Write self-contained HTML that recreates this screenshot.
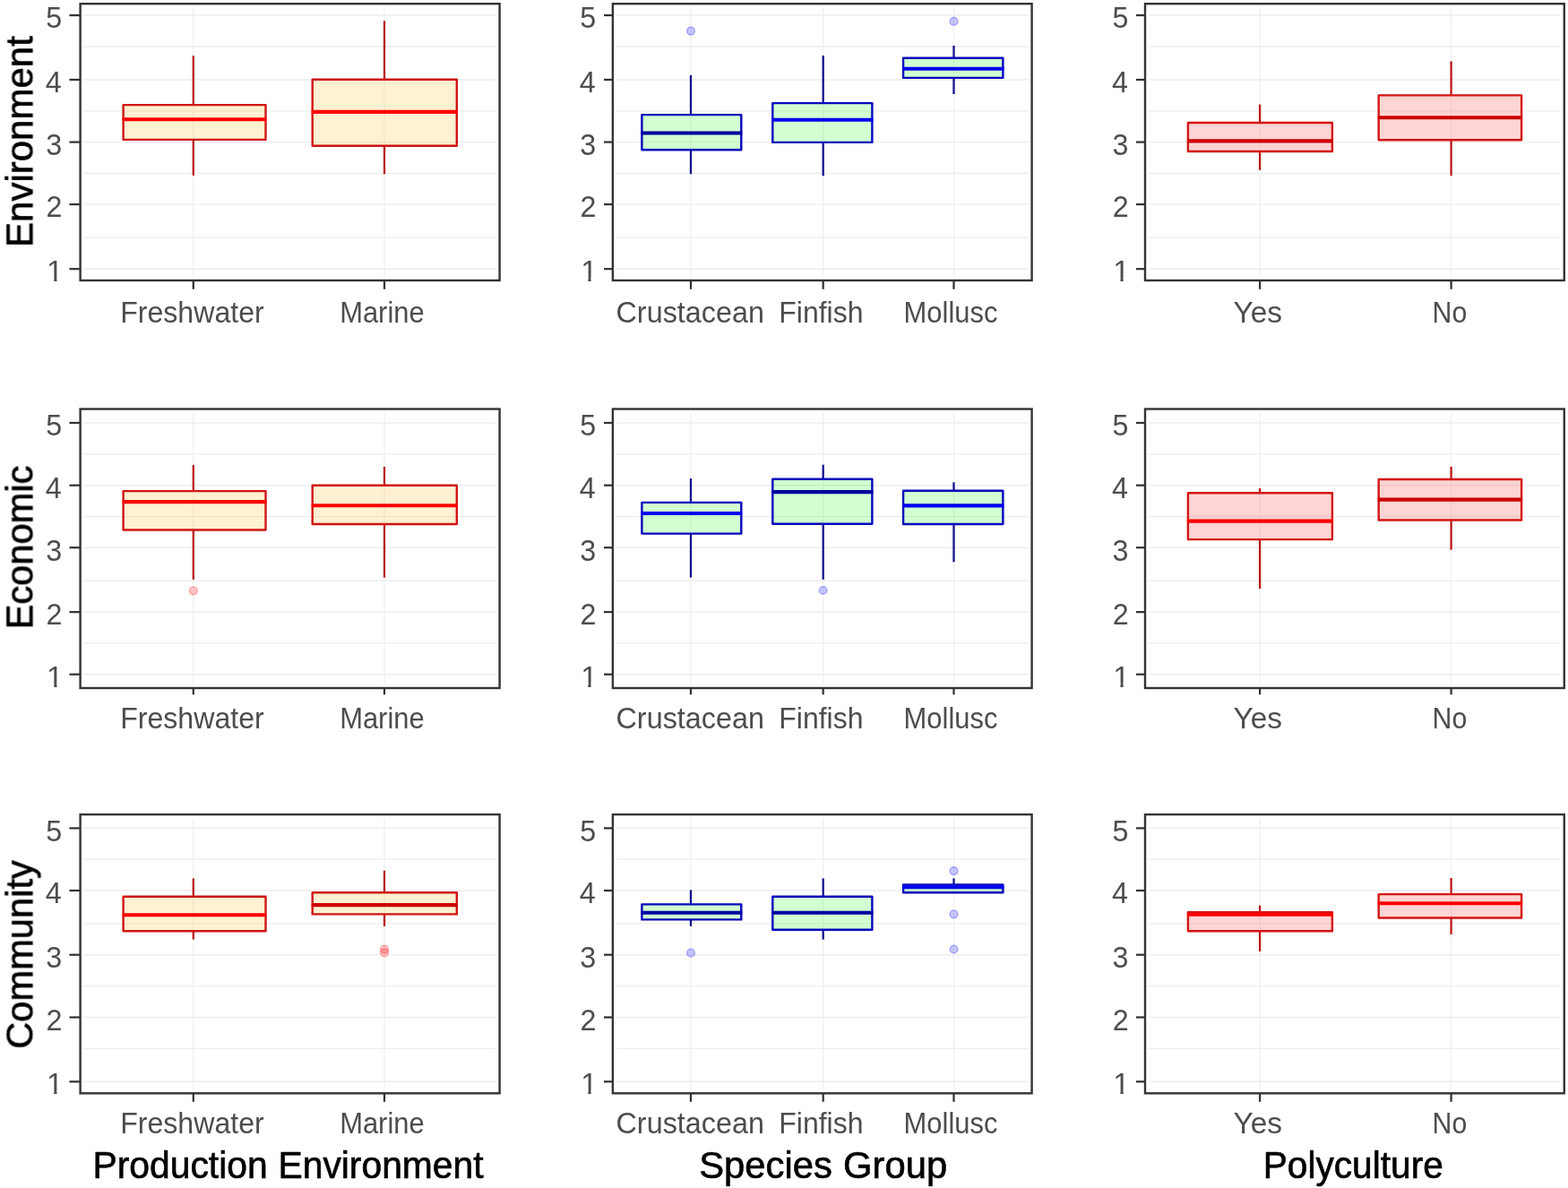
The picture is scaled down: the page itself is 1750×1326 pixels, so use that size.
<!DOCTYPE html>
<html lang="en"><head><meta charset="utf-8"><title>Boxplots</title>
<style>
html,body{margin:0;padding:0;background:#fff;}
body{width:1750px;height:1326px;overflow:hidden;}
svg{display:block;}
text{font-family:"Liberation Sans",sans-serif;}
.tk{font-size:33.3px;fill:#4D4D4D;}
.tt{font-size:42px;fill:#000;stroke:#000;stroke-width:0.65px;}
</style></head><body>
<svg width="1750" height="1326" viewBox="0 0 1750 1326" role="img" aria-label="Boxplots of Environment, Economic and Community scores by Production Environment, Species Group and Polyculture">
<defs>
<filter id="soft" x="-5%" y="-5%" width="110%" height="110%" color-interpolation-filters="sRGB"><feGaussianBlur stdDeviation="0.5"/></filter>
<filter id="softer" x="-5%" y="-5%" width="110%" height="110%" color-interpolation-filters="sRGB"><feGaussianBlur stdDeviation="0.65"/></filter>
<clipPath id="one" clipPathUnits="userSpaceOnUse"><path d="M0 -30H20V-4H11.45V2H8.2V-4H0Z"/></clipPath>
</defs>
<rect width="1750" height="1326" fill="#fff"/>
<g filter="url(#soft)">
<g>
<g stroke="#EDEDED"><line x1="93.6" x2="553.6" y1="17.05" y2="17.05" stroke-width="1.45"/><line x1="93.6" x2="553.6" y1="52" y2="52" stroke-width="1.3"/><line x1="93.6" x2="553.6" y1="89" y2="89" stroke-width="1.45"/><line x1="93.6" x2="553.6" y1="123.8" y2="123.8" stroke-width="1.3"/><line x1="93.6" x2="553.6" y1="158.6" y2="158.6" stroke-width="1.45"/><line x1="93.6" x2="553.6" y1="193.3" y2="193.3" stroke-width="1.3"/><line x1="93.6" x2="553.6" y1="228.1" y2="228.1" stroke-width="1.45"/><line x1="93.6" x2="553.6" y1="265.1" y2="265.1" stroke-width="1.3"/><line x1="93.6" x2="553.6" y1="300.2" y2="300.2" stroke-width="1.45"/><line x1="215.8" x2="215.8" y1="8.2" y2="309" stroke="#F0F0F0" stroke-width="1.3"/><line x1="429" x2="429" y1="8.2" y2="309" stroke="#F0F0F0" stroke-width="1.3"/></g>
<line x1="215.8" x2="215.8" y1="62.2" y2="117.1" stroke="#B81C1C" stroke-width="2.3"/>
<line x1="215.8" x2="215.8" y1="155.9" y2="195.9" stroke="#B81C1C" stroke-width="2.3"/>
<rect x="137.6" y="117.1" width="158.9" height="38.8" fill="#FFB400" fill-opacity="0.18" stroke="#D01414" stroke-width="2.4" stroke-linejoin="round"/>
<line x1="136.6" x2="297.5" y1="133.3" y2="133.3" stroke="#FF0000" stroke-width="4.1"/>
<line x1="429" x2="429" y1="23.3" y2="88.7" stroke="#B81C1C" stroke-width="2.3"/>
<line x1="429" x2="429" y1="162.7" y2="194.3" stroke="#B81C1C" stroke-width="2.3"/>
<rect x="348.7" y="88.7" width="161.1" height="74" fill="#FFB400" fill-opacity="0.18" stroke="#D01414" stroke-width="2.4" stroke-linejoin="round"/>
<line x1="347.7" x2="510.8" y1="124.9" y2="124.9" stroke="#FF0000" stroke-width="4.1"/>
<rect x="89.6" y="4.2" width="468" height="308.8" fill="none" stroke="#333333" stroke-width="2.4"/>
<g stroke="#333333" stroke-width="2.25"><line x1="77.5" x2="89.6" y1="17.05" y2="17.05"/><line x1="77.5" x2="89.6" y1="89" y2="89"/><line x1="77.5" x2="89.6" y1="158.6" y2="158.6"/><line x1="77.5" x2="89.6" y1="228.1" y2="228.1"/><line x1="77.5" x2="89.6" y1="300.2" y2="300.2"/><line x1="215.8" x2="215.8" y1="313" y2="322.8"/><line x1="429" x2="429" y1="313" y2="322.8"/></g>
</g>
<g>
<g stroke="#EDEDED"><line x1="687.9" x2="1147.6" y1="17.05" y2="17.05" stroke-width="1.45"/><line x1="687.9" x2="1147.6" y1="52" y2="52" stroke-width="1.3"/><line x1="687.9" x2="1147.6" y1="89" y2="89" stroke-width="1.45"/><line x1="687.9" x2="1147.6" y1="123.8" y2="123.8" stroke-width="1.3"/><line x1="687.9" x2="1147.6" y1="158.6" y2="158.6" stroke-width="1.45"/><line x1="687.9" x2="1147.6" y1="193.3" y2="193.3" stroke-width="1.3"/><line x1="687.9" x2="1147.6" y1="228.1" y2="228.1" stroke-width="1.45"/><line x1="687.9" x2="1147.6" y1="265.1" y2="265.1" stroke-width="1.3"/><line x1="687.9" x2="1147.6" y1="300.2" y2="300.2" stroke-width="1.45"/><line x1="771" x2="771" y1="8.2" y2="309" stroke="#F0F0F0" stroke-width="1.3"/><line x1="918.7" x2="918.7" y1="8.2" y2="309" stroke="#F0F0F0" stroke-width="1.3"/><line x1="1064.5" x2="1064.5" y1="8.2" y2="309" stroke="#F0F0F0" stroke-width="1.3"/></g>
<circle cx="771" cy="34.6" r="4.4" fill="#0000FF" fill-opacity="0.22" stroke="#0000FF" stroke-opacity="0.3" stroke-width="1.4"/>
<line x1="771" x2="771" y1="83.9" y2="128.1" stroke="#12128E" stroke-width="2.3"/>
<line x1="771" x2="771" y1="167.3" y2="194.3" stroke="#12128E" stroke-width="2.3"/>
<rect x="716.4" y="128.1" width="110.9" height="39.2" fill="#00FF00" fill-opacity="0.18" stroke="#0808BE" stroke-width="2.4" stroke-linejoin="round"/>
<line x1="715.4" x2="828.3" y1="148.5" y2="148.5" stroke="#0000A0" stroke-width="4.1"/>
<line x1="918.7" x2="918.7" y1="62" y2="115.1" stroke="#12128E" stroke-width="2.3"/>
<line x1="918.7" x2="918.7" y1="158.9" y2="196.3" stroke="#12128E" stroke-width="2.3"/>
<rect x="862.3" y="115.1" width="111.1" height="43.8" fill="#00FF00" fill-opacity="0.18" stroke="#0808BE" stroke-width="2.4" stroke-linejoin="round"/>
<line x1="861.3" x2="974.4" y1="133.7" y2="133.7" stroke="#0000F0" stroke-width="4.1"/>
<circle cx="1064.5" cy="23.9" r="4.4" fill="#0000FF" fill-opacity="0.22" stroke="#0000FF" stroke-opacity="0.3" stroke-width="1.4"/>
<line x1="1064.5" x2="1064.5" y1="51" y2="64.8" stroke="#12128E" stroke-width="2.3"/>
<line x1="1064.5" x2="1064.5" y1="86.9" y2="105" stroke="#12128E" stroke-width="2.3"/>
<rect x="1008.1" y="64.8" width="111.3" height="22.1" fill="#00FF00" fill-opacity="0.18" stroke="#0808BE" stroke-width="2.4" stroke-linejoin="round"/>
<line x1="1007.1" x2="1120.4" y1="76.8" y2="76.8" stroke="#0000F0" stroke-width="4.1"/>
<rect x="683.9" y="4.2" width="467.7" height="308.8" fill="none" stroke="#333333" stroke-width="2.4"/>
<g stroke="#333333" stroke-width="2.25"><line x1="674" x2="683.9" y1="17.05" y2="17.05"/><line x1="674" x2="683.9" y1="89" y2="89"/><line x1="674" x2="683.9" y1="158.6" y2="158.6"/><line x1="674" x2="683.9" y1="228.1" y2="228.1"/><line x1="674" x2="683.9" y1="300.2" y2="300.2"/><line x1="771" x2="771" y1="313" y2="322.8"/><line x1="918.7" x2="918.7" y1="313" y2="322.8"/><line x1="1064.5" x2="1064.5" y1="313" y2="322.8"/></g>
</g>
<g>
<g stroke="#EDEDED"><line x1="1282" x2="1741.8" y1="17.05" y2="17.05" stroke-width="1.45"/><line x1="1282" x2="1741.8" y1="52" y2="52" stroke-width="1.3"/><line x1="1282" x2="1741.8" y1="89" y2="89" stroke-width="1.45"/><line x1="1282" x2="1741.8" y1="123.8" y2="123.8" stroke-width="1.3"/><line x1="1282" x2="1741.8" y1="158.6" y2="158.6" stroke-width="1.45"/><line x1="1282" x2="1741.8" y1="193.3" y2="193.3" stroke-width="1.3"/><line x1="1282" x2="1741.8" y1="228.1" y2="228.1" stroke-width="1.45"/><line x1="1282" x2="1741.8" y1="265.1" y2="265.1" stroke-width="1.3"/><line x1="1282" x2="1741.8" y1="300.2" y2="300.2" stroke-width="1.45"/><line x1="1406.1" x2="1406.1" y1="8.2" y2="309" stroke="#F0F0F0" stroke-width="1.3"/><line x1="1619.6" x2="1619.6" y1="8.2" y2="309" stroke="#F0F0F0" stroke-width="1.3"/></g>
<line x1="1406.1" x2="1406.1" y1="116.6" y2="137" stroke="#BC1818" stroke-width="2.3"/>
<line x1="1406.1" x2="1406.1" y1="169" y2="189.8" stroke="#BC1818" stroke-width="2.3"/>
<rect x="1325.9" y="137" width="161" height="32" fill="#FF0000" fill-opacity="0.17" stroke="#D41414" stroke-width="2.4" stroke-linejoin="round"/>
<line x1="1324.9" x2="1487.9" y1="157.4" y2="157.4" stroke="#CC0000" stroke-width="4.1"/>
<line x1="1619.6" x2="1619.6" y1="68.4" y2="106.4" stroke="#BC1818" stroke-width="2.3"/>
<line x1="1619.6" x2="1619.6" y1="156.2" y2="196.1" stroke="#BC1818" stroke-width="2.3"/>
<rect x="1538.7" y="106.4" width="159.4" height="49.8" fill="#FF0000" fill-opacity="0.17" stroke="#D41414" stroke-width="2.4" stroke-linejoin="round"/>
<line x1="1537.7" x2="1699.1" y1="131.3" y2="131.3" stroke="#CC0000" stroke-width="4.1"/>
<rect x="1278" y="4.2" width="467.8" height="308.8" fill="none" stroke="#333333" stroke-width="2.4"/>
<g stroke="#333333" stroke-width="2.25"><line x1="1268" x2="1278" y1="17.05" y2="17.05"/><line x1="1268" x2="1278" y1="89" y2="89"/><line x1="1268" x2="1278" y1="158.6" y2="158.6"/><line x1="1268" x2="1278" y1="228.1" y2="228.1"/><line x1="1268" x2="1278" y1="300.2" y2="300.2"/><line x1="1406.1" x2="1406.1" y1="313" y2="322.8"/><line x1="1619.6" x2="1619.6" y1="313" y2="322.8"/></g>
</g>
<g>
<g stroke="#EDEDED"><line x1="93.6" x2="553.6" y1="472" y2="472" stroke-width="1.45"/><line x1="93.6" x2="553.6" y1="506.9" y2="506.9" stroke-width="1.3"/><line x1="93.6" x2="553.6" y1="541.7" y2="541.7" stroke-width="1.45"/><line x1="93.6" x2="553.6" y1="576.6" y2="576.6" stroke-width="1.3"/><line x1="93.6" x2="553.6" y1="611.2" y2="611.2" stroke-width="1.45"/><line x1="93.6" x2="553.6" y1="648.2" y2="648.2" stroke-width="1.3"/><line x1="93.6" x2="553.6" y1="683.1" y2="683.1" stroke-width="1.45"/><line x1="93.6" x2="553.6" y1="717.9" y2="717.9" stroke-width="1.3"/><line x1="93.6" x2="553.6" y1="752.7" y2="752.7" stroke-width="1.45"/><line x1="215.8" x2="215.8" y1="460.5" y2="764" stroke="#F0F0F0" stroke-width="1.3"/><line x1="429" x2="429" y1="460.5" y2="764" stroke="#F0F0F0" stroke-width="1.3"/></g>
<circle cx="215.8" cy="659.3" r="4.4" fill="#FF0000" fill-opacity="0.22" stroke="#FF0000" stroke-opacity="0.3" stroke-width="1.4"/>
<line x1="215.8" x2="215.8" y1="519" y2="548.1" stroke="#B81C1C" stroke-width="2.3"/>
<line x1="215.8" x2="215.8" y1="591.5" y2="646.9" stroke="#B81C1C" stroke-width="2.3"/>
<rect x="137.6" y="548.1" width="158.9" height="43.4" fill="#FFB400" fill-opacity="0.18" stroke="#D01414" stroke-width="2.4" stroke-linejoin="round"/>
<line x1="136.6" x2="297.5" y1="560.1" y2="560.1" stroke="#FF0000" stroke-width="4.1"/>
<line x1="429" x2="429" y1="520.9" y2="541.7" stroke="#B81C1C" stroke-width="2.3"/>
<line x1="429" x2="429" y1="585" y2="644.6" stroke="#B81C1C" stroke-width="2.3"/>
<rect x="348.7" y="541.7" width="161.1" height="43.3" fill="#FFB400" fill-opacity="0.18" stroke="#D01414" stroke-width="2.4" stroke-linejoin="round"/>
<line x1="347.7" x2="510.8" y1="564.2" y2="564.2" stroke="#FF0000" stroke-width="4.1"/>
<rect x="89.6" y="456.5" width="468" height="311.5" fill="none" stroke="#333333" stroke-width="2.4"/>
<g stroke="#333333" stroke-width="2.25"><line x1="77.5" x2="89.6" y1="472" y2="472"/><line x1="77.5" x2="89.6" y1="541.7" y2="541.7"/><line x1="77.5" x2="89.6" y1="611.2" y2="611.2"/><line x1="77.5" x2="89.6" y1="683.1" y2="683.1"/><line x1="77.5" x2="89.6" y1="752.7" y2="752.7"/><line x1="215.8" x2="215.8" y1="768" y2="775.3"/><line x1="429" x2="429" y1="768" y2="775.3"/></g>
</g>
<g>
<g stroke="#EDEDED"><line x1="687.9" x2="1147.6" y1="472" y2="472" stroke-width="1.45"/><line x1="687.9" x2="1147.6" y1="506.9" y2="506.9" stroke-width="1.3"/><line x1="687.9" x2="1147.6" y1="541.7" y2="541.7" stroke-width="1.45"/><line x1="687.9" x2="1147.6" y1="576.6" y2="576.6" stroke-width="1.3"/><line x1="687.9" x2="1147.6" y1="611.2" y2="611.2" stroke-width="1.45"/><line x1="687.9" x2="1147.6" y1="648.2" y2="648.2" stroke-width="1.3"/><line x1="687.9" x2="1147.6" y1="683.1" y2="683.1" stroke-width="1.45"/><line x1="687.9" x2="1147.6" y1="717.9" y2="717.9" stroke-width="1.3"/><line x1="687.9" x2="1147.6" y1="752.7" y2="752.7" stroke-width="1.45"/><line x1="771" x2="771" y1="460.5" y2="764" stroke="#F0F0F0" stroke-width="1.3"/><line x1="918.7" x2="918.7" y1="460.5" y2="764" stroke="#F0F0F0" stroke-width="1.3"/><line x1="1064.5" x2="1064.5" y1="460.5" y2="764" stroke="#F0F0F0" stroke-width="1.3"/></g>
<line x1="771" x2="771" y1="534" y2="560.9" stroke="#12128E" stroke-width="2.3"/>
<line x1="771" x2="771" y1="595.6" y2="644.6" stroke="#12128E" stroke-width="2.3"/>
<rect x="716.4" y="560.9" width="110.9" height="34.7" fill="#00FF00" fill-opacity="0.18" stroke="#0808BE" stroke-width="2.4" stroke-linejoin="round"/>
<line x1="715.4" x2="828.3" y1="573" y2="573" stroke="#0000F0" stroke-width="4.1"/>
<circle cx="918.7" cy="659" r="4.4" fill="#0000FF" fill-opacity="0.22" stroke="#0000FF" stroke-opacity="0.3" stroke-width="1.4"/>
<line x1="918.7" x2="918.7" y1="518.7" y2="534.8" stroke="#12128E" stroke-width="2.3"/>
<line x1="918.7" x2="918.7" y1="584.7" y2="646.9" stroke="#12128E" stroke-width="2.3"/>
<rect x="862.3" y="534.8" width="111.1" height="49.9" fill="#00FF00" fill-opacity="0.18" stroke="#0808BE" stroke-width="2.4" stroke-linejoin="round"/>
<line x1="861.3" x2="974.4" y1="549.1" y2="549.1" stroke="#0000A0" stroke-width="4.1"/>
<line x1="1064.5" x2="1064.5" y1="538.3" y2="547.8" stroke="#12128E" stroke-width="2.3"/>
<line x1="1064.5" x2="1064.5" y1="585" y2="627.3" stroke="#12128E" stroke-width="2.3"/>
<rect x="1008.1" y="547.8" width="111.3" height="37.2" fill="#00FF00" fill-opacity="0.18" stroke="#0808BE" stroke-width="2.4" stroke-linejoin="round"/>
<line x1="1007.1" x2="1120.4" y1="564.4" y2="564.4" stroke="#0000F0" stroke-width="4.1"/>
<rect x="683.9" y="456.5" width="467.7" height="311.5" fill="none" stroke="#333333" stroke-width="2.4"/>
<g stroke="#333333" stroke-width="2.25"><line x1="674" x2="683.9" y1="472" y2="472"/><line x1="674" x2="683.9" y1="541.7" y2="541.7"/><line x1="674" x2="683.9" y1="611.2" y2="611.2"/><line x1="674" x2="683.9" y1="683.1" y2="683.1"/><line x1="674" x2="683.9" y1="752.7" y2="752.7"/><line x1="771" x2="771" y1="768" y2="775.3"/><line x1="918.7" x2="918.7" y1="768" y2="775.3"/><line x1="1064.5" x2="1064.5" y1="768" y2="775.3"/></g>
</g>
<g>
<g stroke="#EDEDED"><line x1="1282" x2="1741.8" y1="472" y2="472" stroke-width="1.45"/><line x1="1282" x2="1741.8" y1="506.9" y2="506.9" stroke-width="1.3"/><line x1="1282" x2="1741.8" y1="541.7" y2="541.7" stroke-width="1.45"/><line x1="1282" x2="1741.8" y1="576.6" y2="576.6" stroke-width="1.3"/><line x1="1282" x2="1741.8" y1="611.2" y2="611.2" stroke-width="1.45"/><line x1="1282" x2="1741.8" y1="648.2" y2="648.2" stroke-width="1.3"/><line x1="1282" x2="1741.8" y1="683.1" y2="683.1" stroke-width="1.45"/><line x1="1282" x2="1741.8" y1="717.9" y2="717.9" stroke-width="1.3"/><line x1="1282" x2="1741.8" y1="752.7" y2="752.7" stroke-width="1.45"/><line x1="1406.1" x2="1406.1" y1="460.5" y2="764" stroke="#F0F0F0" stroke-width="1.3"/><line x1="1619.6" x2="1619.6" y1="460.5" y2="764" stroke="#F0F0F0" stroke-width="1.3"/></g>
<line x1="1406.1" x2="1406.1" y1="545.1" y2="550.3" stroke="#BC1818" stroke-width="2.3"/>
<line x1="1406.1" x2="1406.1" y1="602.1" y2="657.1" stroke="#BC1818" stroke-width="2.3"/>
<rect x="1325.9" y="550.3" width="161" height="51.8" fill="#FF0000" fill-opacity="0.17" stroke="#D41414" stroke-width="2.4" stroke-linejoin="round"/>
<line x1="1324.9" x2="1487.9" y1="581.6" y2="581.6" stroke="#FF0000" stroke-width="4.1"/>
<line x1="1619.6" x2="1619.6" y1="520.9" y2="535" stroke="#BC1818" stroke-width="2.3"/>
<line x1="1619.6" x2="1619.6" y1="580.5" y2="613.7" stroke="#BC1818" stroke-width="2.3"/>
<rect x="1538.7" y="535" width="159.4" height="45.5" fill="#FF0000" fill-opacity="0.17" stroke="#D41414" stroke-width="2.4" stroke-linejoin="round"/>
<line x1="1537.7" x2="1699.1" y1="557.6" y2="557.6" stroke="#CC0000" stroke-width="4.1"/>
<rect x="1278" y="456.5" width="467.8" height="311.5" fill="none" stroke="#333333" stroke-width="2.4"/>
<g stroke="#333333" stroke-width="2.25"><line x1="1268" x2="1278" y1="472" y2="472"/><line x1="1268" x2="1278" y1="541.7" y2="541.7"/><line x1="1268" x2="1278" y1="611.2" y2="611.2"/><line x1="1268" x2="1278" y1="683.1" y2="683.1"/><line x1="1268" x2="1278" y1="752.7" y2="752.7"/><line x1="1406.1" x2="1406.1" y1="768" y2="775.3"/><line x1="1619.6" x2="1619.6" y1="768" y2="775.3"/></g>
</g>
<g>
<g stroke="#EDEDED"><line x1="93.6" x2="553.6" y1="924.4" y2="924.4" stroke-width="1.45"/><line x1="93.6" x2="553.6" y1="959.1" y2="959.1" stroke-width="1.3"/><line x1="93.6" x2="553.6" y1="994" y2="994" stroke-width="1.45"/><line x1="93.6" x2="553.6" y1="1030.9" y2="1030.9" stroke-width="1.3"/><line x1="93.6" x2="553.6" y1="1065.7" y2="1065.7" stroke-width="1.45"/><line x1="93.6" x2="553.6" y1="1100.6" y2="1100.6" stroke-width="1.3"/><line x1="93.6" x2="553.6" y1="1135.5" y2="1135.5" stroke-width="1.45"/><line x1="93.6" x2="553.6" y1="1170.3" y2="1170.3" stroke-width="1.3"/><line x1="93.6" x2="553.6" y1="1207.3" y2="1207.3" stroke-width="1.45"/><line x1="215.8" x2="215.8" y1="913.1" y2="1216.3" stroke="#F0F0F0" stroke-width="1.3"/><line x1="429" x2="429" y1="913.1" y2="1216.3" stroke="#F0F0F0" stroke-width="1.3"/></g>
<line x1="215.8" x2="215.8" y1="980.4" y2="1000.8" stroke="#B81C1C" stroke-width="2.3"/>
<line x1="215.8" x2="215.8" y1="1039.3" y2="1048.6" stroke="#B81C1C" stroke-width="2.3"/>
<rect x="137.6" y="1000.8" width="158.9" height="38.5" fill="#FFB400" fill-opacity="0.18" stroke="#D01414" stroke-width="2.4" stroke-linejoin="round"/>
<line x1="136.6" x2="297.5" y1="1021.2" y2="1021.2" stroke="#FF0000" stroke-width="4.1"/>
<circle cx="429" cy="1059.6" r="4.4" fill="#FF0000" fill-opacity="0.22" stroke="#FF0000" stroke-opacity="0.3" stroke-width="1.4"/>
<circle cx="429" cy="1063.4" r="4.4" fill="#FF0000" fill-opacity="0.22" stroke="#FF0000" stroke-opacity="0.3" stroke-width="1.4"/>
<line x1="429" x2="429" y1="971.7" y2="996.3" stroke="#B81C1C" stroke-width="2.3"/>
<line x1="429" x2="429" y1="1020.4" y2="1033.8" stroke="#B81C1C" stroke-width="2.3"/>
<rect x="348.7" y="996.3" width="161.1" height="24.1" fill="#FFB400" fill-opacity="0.18" stroke="#D01414" stroke-width="2.4" stroke-linejoin="round"/>
<line x1="347.7" x2="510.8" y1="1010.1" y2="1010.1" stroke="#CC0000" stroke-width="4.1"/>
<rect x="89.6" y="909.1" width="468" height="311.2" fill="none" stroke="#333333" stroke-width="2.4"/>
<g stroke="#333333" stroke-width="2.25"><line x1="77.5" x2="89.6" y1="924.4" y2="924.4"/><line x1="77.5" x2="89.6" y1="994" y2="994"/><line x1="77.5" x2="89.6" y1="1065.7" y2="1065.7"/><line x1="77.5" x2="89.6" y1="1135.5" y2="1135.5"/><line x1="77.5" x2="89.6" y1="1207.3" y2="1207.3"/><line x1="215.8" x2="215.8" y1="1220.3" y2="1229.8"/><line x1="429" x2="429" y1="1220.3" y2="1229.8"/></g>
</g>
<g>
<g stroke="#EDEDED"><line x1="687.9" x2="1147.6" y1="924.4" y2="924.4" stroke-width="1.45"/><line x1="687.9" x2="1147.6" y1="959.1" y2="959.1" stroke-width="1.3"/><line x1="687.9" x2="1147.6" y1="994" y2="994" stroke-width="1.45"/><line x1="687.9" x2="1147.6" y1="1030.9" y2="1030.9" stroke-width="1.3"/><line x1="687.9" x2="1147.6" y1="1065.7" y2="1065.7" stroke-width="1.45"/><line x1="687.9" x2="1147.6" y1="1100.6" y2="1100.6" stroke-width="1.3"/><line x1="687.9" x2="1147.6" y1="1135.5" y2="1135.5" stroke-width="1.45"/><line x1="687.9" x2="1147.6" y1="1170.3" y2="1170.3" stroke-width="1.3"/><line x1="687.9" x2="1147.6" y1="1207.3" y2="1207.3" stroke-width="1.45"/><line x1="771" x2="771" y1="913.1" y2="1216.3" stroke="#F0F0F0" stroke-width="1.3"/><line x1="918.7" x2="918.7" y1="913.1" y2="1216.3" stroke="#F0F0F0" stroke-width="1.3"/><line x1="1064.5" x2="1064.5" y1="913.1" y2="1216.3" stroke="#F0F0F0" stroke-width="1.3"/></g>
<circle cx="771" cy="1063.7" r="4.4" fill="#0000FF" fill-opacity="0.22" stroke="#0000FF" stroke-opacity="0.3" stroke-width="1.4"/>
<line x1="771" x2="771" y1="993.3" y2="1009.4" stroke="#12128E" stroke-width="2.3"/>
<line x1="771" x2="771" y1="1026.4" y2="1033.8" stroke="#12128E" stroke-width="2.3"/>
<rect x="716.4" y="1009.4" width="110.9" height="17" fill="#00FF00" fill-opacity="0.18" stroke="#0808BE" stroke-width="2.4" stroke-linejoin="round"/>
<line x1="715.4" x2="828.3" y1="1018.7" y2="1018.7" stroke="#0000A0" stroke-width="4.1"/>
<line x1="918.7" x2="918.7" y1="980.4" y2="1000.8" stroke="#12128E" stroke-width="2.3"/>
<line x1="918.7" x2="918.7" y1="1037.8" y2="1048.6" stroke="#12128E" stroke-width="2.3"/>
<rect x="862.3" y="1000.8" width="111.1" height="37" fill="#00FF00" fill-opacity="0.18" stroke="#0808BE" stroke-width="2.4" stroke-linejoin="round"/>
<line x1="861.3" x2="974.4" y1="1018.7" y2="1018.7" stroke="#0000A0" stroke-width="4.1"/>
<circle cx="1064.5" cy="972.1" r="4.4" fill="#0000FF" fill-opacity="0.22" stroke="#0000FF" stroke-opacity="0.3" stroke-width="1.4"/>
<circle cx="1064.5" cy="1020.3" r="4.4" fill="#0000FF" fill-opacity="0.22" stroke="#0000FF" stroke-opacity="0.3" stroke-width="1.4"/>
<circle cx="1064.5" cy="1059.5" r="4.4" fill="#0000FF" fill-opacity="0.22" stroke="#0000FF" stroke-opacity="0.3" stroke-width="1.4"/>
<line x1="1064.5" x2="1064.5" y1="980.4" y2="987.5" stroke="#12128E" stroke-width="2.3"/>
<rect x="1008.1" y="987.5" width="111.3" height="8.8" fill="#00FF00" fill-opacity="0.18" stroke="#0808BE" stroke-width="2.4" stroke-linejoin="round"/>
<line x1="1007.1" x2="1120.4" y1="990.2" y2="990.2" stroke="#0000F0" stroke-width="4.1"/>
<rect x="683.9" y="909.1" width="467.7" height="311.2" fill="none" stroke="#333333" stroke-width="2.4"/>
<g stroke="#333333" stroke-width="2.25"><line x1="674" x2="683.9" y1="924.4" y2="924.4"/><line x1="674" x2="683.9" y1="994" y2="994"/><line x1="674" x2="683.9" y1="1065.7" y2="1065.7"/><line x1="674" x2="683.9" y1="1135.5" y2="1135.5"/><line x1="674" x2="683.9" y1="1207.3" y2="1207.3"/><line x1="771" x2="771" y1="1220.3" y2="1229.8"/><line x1="918.7" x2="918.7" y1="1220.3" y2="1229.8"/><line x1="1064.5" x2="1064.5" y1="1220.3" y2="1229.8"/></g>
</g>
<g>
<g stroke="#EDEDED"><line x1="1282" x2="1741.8" y1="924.4" y2="924.4" stroke-width="1.45"/><line x1="1282" x2="1741.8" y1="959.1" y2="959.1" stroke-width="1.3"/><line x1="1282" x2="1741.8" y1="994" y2="994" stroke-width="1.45"/><line x1="1282" x2="1741.8" y1="1030.9" y2="1030.9" stroke-width="1.3"/><line x1="1282" x2="1741.8" y1="1065.7" y2="1065.7" stroke-width="1.45"/><line x1="1282" x2="1741.8" y1="1100.6" y2="1100.6" stroke-width="1.3"/><line x1="1282" x2="1741.8" y1="1135.5" y2="1135.5" stroke-width="1.45"/><line x1="1282" x2="1741.8" y1="1170.3" y2="1170.3" stroke-width="1.3"/><line x1="1282" x2="1741.8" y1="1207.3" y2="1207.3" stroke-width="1.45"/><line x1="1406.1" x2="1406.1" y1="913.1" y2="1216.3" stroke="#F0F0F0" stroke-width="1.3"/><line x1="1619.6" x2="1619.6" y1="913.1" y2="1216.3" stroke="#F0F0F0" stroke-width="1.3"/></g>
<line x1="1406.1" x2="1406.1" y1="1010.6" y2="1018.1" stroke="#BC1818" stroke-width="2.3"/>
<line x1="1406.1" x2="1406.1" y1="1039.3" y2="1061.9" stroke="#BC1818" stroke-width="2.3"/>
<rect x="1325.9" y="1018.1" width="161" height="21.2" fill="#FF0000" fill-opacity="0.17" stroke="#D41414" stroke-width="2.4" stroke-linejoin="round"/>
<line x1="1324.9" x2="1487.9" y1="1020.7" y2="1020.7" stroke="#FF0000" stroke-width="4.1"/>
<line x1="1619.6" x2="1619.6" y1="980" y2="998.1" stroke="#BC1818" stroke-width="2.3"/>
<line x1="1619.6" x2="1619.6" y1="1024.5" y2="1042.9" stroke="#BC1818" stroke-width="2.3"/>
<rect x="1538.7" y="998.1" width="159.4" height="26.4" fill="#FF0000" fill-opacity="0.17" stroke="#D41414" stroke-width="2.4" stroke-linejoin="round"/>
<line x1="1537.7" x2="1699.1" y1="1008.2" y2="1008.2" stroke="#FF0000" stroke-width="4.1"/>
<rect x="1278" y="909.1" width="467.8" height="311.2" fill="none" stroke="#333333" stroke-width="2.4"/>
<g stroke="#333333" stroke-width="2.25"><line x1="1268" x2="1278" y1="924.4" y2="924.4"/><line x1="1268" x2="1278" y1="994" y2="994"/><line x1="1268" x2="1278" y1="1065.7" y2="1065.7"/><line x1="1268" x2="1278" y1="1135.5" y2="1135.5"/><line x1="1268" x2="1278" y1="1207.3" y2="1207.3"/><line x1="1406.1" x2="1406.1" y1="1220.3" y2="1229.8"/><line x1="1619.6" x2="1619.6" y1="1220.3" y2="1229.8"/></g>
</g>
</g>
<g filter="url(#softer)">
<text class="tk" transform="translate(51.21 31.35) scale(0.9700 1)">5</text>
<text class="tk" transform="translate(50.72 103.3) scale(0.9700 1)">4</text>
<text class="tk" transform="translate(51.21 172.9) scale(0.9700 1)">3</text>
<text class="tk" transform="translate(51.45 242.4) scale(0.9700 1)">2</text>
<text class="tk" clip-path="url(#one)" transform="translate(52.05 314.1) scale(1.0000 1)">1</text>
<text class="tk" transform="translate(134.15 359.6) scale(0.9648 1)">Freshwater</text>
<text class="tk" transform="translate(379.14 359.6) scale(0.9292 1)">Marine</text>
<text class="tk" transform="translate(647.31 31.35) scale(0.9700 1)">5</text>
<text class="tk" transform="translate(646.83 103.3) scale(0.9700 1)">4</text>
<text class="tk" transform="translate(647.31 172.9) scale(0.9700 1)">3</text>
<text class="tk" transform="translate(647.55 242.4) scale(0.9700 1)">2</text>
<text class="tk" clip-path="url(#one)" transform="translate(648.15 314.1) scale(1.0000 1)">1</text>
<text class="tk" transform="translate(687.5 359.6) scale(0.9720 1)">Crustacean</text>
<text class="tk" transform="translate(869.25 359.6) scale(0.9619 1)">Finfish</text>
<text class="tk" transform="translate(1008.54 359.6) scale(0.9300 1)">Mollusc</text>
<text class="tk" transform="translate(1241.41 31.35) scale(0.9700 1)">5</text>
<text class="tk" transform="translate(1240.92 103.3) scale(0.9700 1)">4</text>
<text class="tk" transform="translate(1241.41 172.9) scale(0.9700 1)">3</text>
<text class="tk" transform="translate(1241.65 242.4) scale(0.9700 1)">2</text>
<text class="tk" clip-path="url(#one)" transform="translate(1242.25 314.1) scale(1.0000 1)">1</text>
<text class="tk" transform="translate(1376.5 359.6) scale(1.0038 1)">Yes</text>
<text class="tk" transform="translate(1598.6 359.6) scale(0.9091 1)">No</text>
<text class="tk" transform="translate(51.21 486.3) scale(0.9700 1)">5</text>
<text class="tk" transform="translate(50.72 556) scale(0.9700 1)">4</text>
<text class="tk" transform="translate(51.21 625.5) scale(0.9700 1)">3</text>
<text class="tk" transform="translate(51.45 697.4) scale(0.9700 1)">2</text>
<text class="tk" clip-path="url(#one)" transform="translate(52.05 766.6) scale(1.0000 1)">1</text>
<text class="tk" transform="translate(134.15 812.5) scale(0.9648 1)">Freshwater</text>
<text class="tk" transform="translate(379.14 812.5) scale(0.9292 1)">Marine</text>
<text class="tk" transform="translate(647.31 486.3) scale(0.9700 1)">5</text>
<text class="tk" transform="translate(646.83 556) scale(0.9700 1)">4</text>
<text class="tk" transform="translate(647.31 625.5) scale(0.9700 1)">3</text>
<text class="tk" transform="translate(647.55 697.4) scale(0.9700 1)">2</text>
<text class="tk" clip-path="url(#one)" transform="translate(648.15 766.6) scale(1.0000 1)">1</text>
<text class="tk" transform="translate(687.5 812.5) scale(0.9720 1)">Crustacean</text>
<text class="tk" transform="translate(869.25 812.5) scale(0.9619 1)">Finfish</text>
<text class="tk" transform="translate(1008.54 812.5) scale(0.9300 1)">Mollusc</text>
<text class="tk" transform="translate(1241.41 486.3) scale(0.9700 1)">5</text>
<text class="tk" transform="translate(1240.92 556) scale(0.9700 1)">4</text>
<text class="tk" transform="translate(1241.41 625.5) scale(0.9700 1)">3</text>
<text class="tk" transform="translate(1241.65 697.4) scale(0.9700 1)">2</text>
<text class="tk" clip-path="url(#one)" transform="translate(1242.25 766.6) scale(1.0000 1)">1</text>
<text class="tk" transform="translate(1376.5 812.5) scale(1.0038 1)">Yes</text>
<text class="tk" transform="translate(1598.6 812.5) scale(0.9091 1)">No</text>
<text class="tk" transform="translate(51.21 938.7) scale(0.9700 1)">5</text>
<text class="tk" transform="translate(50.72 1008.3) scale(0.9700 1)">4</text>
<text class="tk" transform="translate(51.21 1080) scale(0.9700 1)">3</text>
<text class="tk" transform="translate(51.45 1149.8) scale(0.9700 1)">2</text>
<text class="tk" clip-path="url(#one)" transform="translate(52.05 1221.2) scale(1.0000 1)">1</text>
<text class="tk" transform="translate(134.15 1264.8) scale(0.9648 1)">Freshwater</text>
<text class="tk" transform="translate(379.14 1264.8) scale(0.9292 1)">Marine</text>
<text class="tk" transform="translate(647.31 938.7) scale(0.9700 1)">5</text>
<text class="tk" transform="translate(646.83 1008.3) scale(0.9700 1)">4</text>
<text class="tk" transform="translate(647.31 1080) scale(0.9700 1)">3</text>
<text class="tk" transform="translate(647.55 1149.8) scale(0.9700 1)">2</text>
<text class="tk" clip-path="url(#one)" transform="translate(648.15 1221.2) scale(1.0000 1)">1</text>
<text class="tk" transform="translate(687.5 1264.8) scale(0.9720 1)">Crustacean</text>
<text class="tk" transform="translate(869.25 1264.8) scale(0.9619 1)">Finfish</text>
<text class="tk" transform="translate(1008.54 1264.8) scale(0.9300 1)">Mollusc</text>
<text class="tk" transform="translate(1241.41 938.7) scale(0.9700 1)">5</text>
<text class="tk" transform="translate(1240.92 1008.3) scale(0.9700 1)">4</text>
<text class="tk" transform="translate(1241.41 1080) scale(0.9700 1)">3</text>
<text class="tk" transform="translate(1241.65 1149.8) scale(0.9700 1)">2</text>
<text class="tk" clip-path="url(#one)" transform="translate(1242.25 1221.2) scale(1.0000 1)">1</text>
<text class="tk" transform="translate(1376.5 1264.8) scale(1.0038 1)">Yes</text>
<text class="tk" transform="translate(1598.6 1264.8) scale(0.9091 1)">No</text>
<text class="tt" xml:space="preserve" transform="translate(103.47 1314.6) scale(0.9725 1)"><tspan x="0">Production</tspan> <tspan x="212.83">Environment</tspan></text>
<text class="tt" xml:space="preserve" transform="translate(780.21 1314.6) scale(0.9951 1)"><tspan x="0">Species</tspan> <tspan x="161.65">Group</tspan></text>
<text class="tt" xml:space="preserve" transform="translate(1409.67 1314.6) scale(0.9683 1)"><tspan x="0">Polyculture</tspan></text>
<text class="tt" transform="translate(36.4 276.04) rotate(-90) scale(1.0008 1)">Environment</text>
<text class="tt" transform="translate(36.4 702.41) rotate(-90) scale(0.9918 1)">Economic</text>
<text class="tt" transform="translate(36.4 1170.77) rotate(-90) scale(0.9918 1)">Community</text>
</g>
</svg>
</body></html>
